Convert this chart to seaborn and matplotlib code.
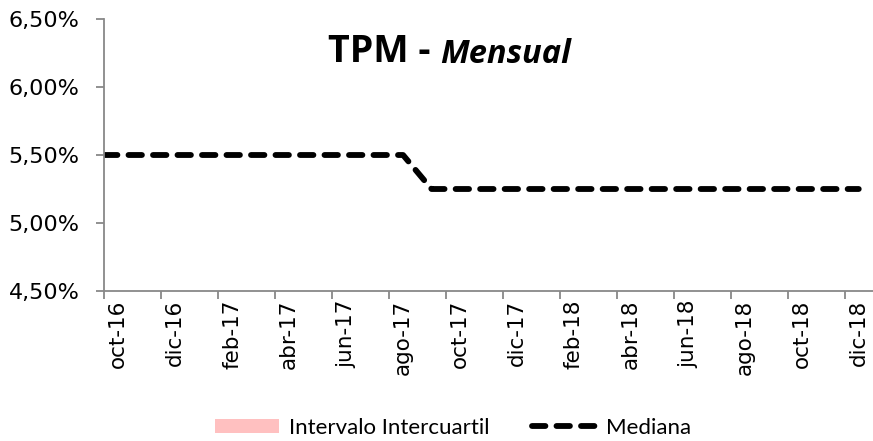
import numpy as np
import pandas as pd
import matplotlib
matplotlib.use("Agg")
import matplotlib.pyplot as plt
import seaborn as sns
from matplotlib.patches import Patch
from matplotlib.lines import Line2D

months = ["oct-16", "nov-16", "dic-16", "ene-17", "feb-17", "mar-17", "abr-17",
          "may-17", "jun-17", "jul-17", "ago-17", "sep-17", "oct-17", "nov-17",
          "dic-17", "ene-18", "feb-18", "mar-18", "abr-18", "may-18", "jun-18",
          "jul-18", "ago-18", "sep-18", "oct-18", "nov-18", "dic-18"]
mediana = [5.50] * 11 + [5.25] * 16
q1 = list(mediana)
q3 = list(mediana)
y_ticks = [4.50, 5.00, 5.50, 6.00, 6.50]

sns.set_theme(style="white")
plt.rcParams["font.family"] = ["DejaVu Sans"]
plt.rcParams["text.color"] = "black"
plt.rcParams["xtick.color"] = "black"
plt.rcParams["ytick.color"] = "black"
plt.rcParams["xtick.labelcolor"] = "black"
plt.rcParams["ytick.labelcolor"] = "black"

fig = plt.figure(figsize=(8.73, 4.41), dpi=100)
ax = fig.add_axes([104 / 873, 150 / 441, 1 - 104 / 873, 272 / 441])

n = len(months)
centers = np.arange(n) + 0.5
xlim = (0, n)
df = pd.DataFrame({"x": centers, "mediana": mediana, "q1": q1, "q3": q3})

ax.fill_between(df["x"], df["q1"], df["q3"], color="#FFC0C0", lw=0)
xs = np.r_[xlim[0], df["x"].values]
ys = np.r_[df["mediana"].values[0], df["mediana"].values]
sns.lineplot(x=xs, y=ys, ax=ax, color="black", lw=4.2, sort=False,
             dashes=False)
line = ax.lines[-1]
line.set_dashes((2.3, 1.9))
line.set_dash_capstyle("round")

ax.set_xlim(*xlim)
ax.set_ylim(y_ticks[0], y_ticks[-1])
ax.set_yticks(y_ticks)
ax.set_yticklabels([f"{v:.2f}%".replace(".", ",") for v in y_ticks], fontsize=16,
                   color="black")

ax.set_xticks(np.arange(0, n, 2))
ax.set_xticklabels([])
ax.set_xticks(centers[::2], minor=True)
ax.set_xticklabels(months[::2], minor=True, rotation=90, fontsize=15.5,
                   color="black")
ax.tick_params(axis="x", which="major", length=5.5, width=1.3, color="#888888",
               direction="out", bottom=True)
ax.tick_params(axis="x", which="minor", length=0, pad=6, bottom=True)
ax.tick_params(axis="y", length=5.5, width=1.3, color="#888888", direction="out",
               left=True, pad=12)

for s in ["top", "right"]:
    ax.spines[s].set_visible(False)
for s in ["left", "bottom"]:
    ax.spines[s].set_color("#888888")
    ax.spines[s].set_linewidth(1.3)
ax.set_xlabel("")
ax.set_ylabel("")
ax.patch.set_alpha(0)

t1 = fig.text(328 / 873, 1 - 62 / 441, "TPM - ", fontsize=27, fontweight="bold",
              family="Open Sans", ha="left", va="baseline", color="black")
ax.annotate("Mensual", xy=(1, 0), xycoords=t1, fontsize=23.5, fontweight="bold",
            fontstyle="italic", family="Open Sans", ha="left", va="bottom",
            color="black")

handles = [Patch(facecolor="#FFC0C0", edgecolor="none", label="Intervalo Intercuartil"),
           Line2D([0], [0], color="black", lw=4.2, dashes=(2.3, 1.9),
                  dash_capstyle="round", label="Mediana")]
fig.legend(handles=handles, loc="center", bbox_to_anchor=(0.519, 0.030), ncol=2,
           frameon=False, prop={"family": "Lato", "size": 16}, handlelength=2.9,
           handleheight=0.6, columnspacing=1.9, handletextpad=0.45)

fig.savefig("out.png", dpi=100)
